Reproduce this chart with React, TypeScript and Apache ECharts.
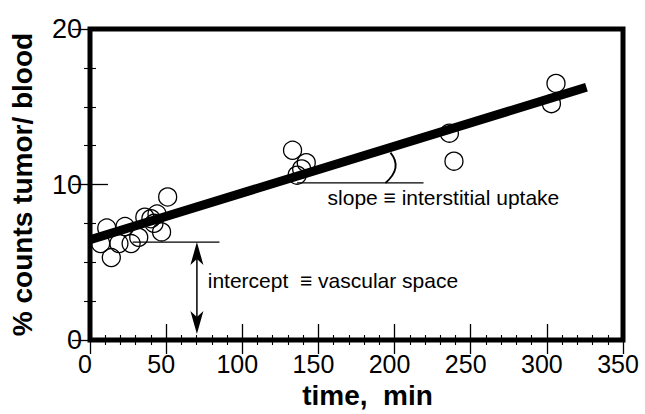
import React, { useEffect, useRef } from "react";
import * as echarts from "echarts";

// ---- data ----
const timeMin = [7, 11, 14, 19, 23, 27, 32, 36, 40, 42, 44, 47, 51, 133, 136, 139, 142, 236, 239, 303, 306];
const countsRatio = [6.2, 7.2, 5.3, 6.2, 7.3, 6.2, 6.6, 7.9, 7.8, 7.5, 8.1, 6.95, 9.2, 12.2, 10.6, 11.0, 11.4, 13.3, 11.5, 15.2, 16.5];
const fitTime = [0, 326];
const fitValue = [6.45, 16.25];
const xTicks = [0, 50, 100, 150, 200, 250, 300, 350];
const yTicks = [0, 10, 20];

// annotation anchors (data units)
const interceptLevel = 6.3;
const interceptLineTime = [28, 85];
const arrowTime = 70.2;
const arrowBottom = 0.38;
const slopeLevel = 10.1;
const slopeLineTime = [136, 219];
const arcBottom = [194, 10.1];
const arcTop = [197.3, 12.05];
const slopeText = "slope ≡ interstitial uptake";
const slopeTextAt = [156, 9.15];
const interceptText = "intercept  ≡ vascular space";
const interceptTextAt = [77.3, 3.8];

const FONT = "'Liberation Sans', Arial, Helvetica, sans-serif";

export default function App() {
  const ref = useRef<HTMLDivElement>(null);
  useEffect(() => {
    if (!ref.current) return;
    const chart = echarts.init(ref.current, undefined, { renderer: "svg" });
    const points = timeMin.map((t, i) => [t, countsRatio[i]]);
    const fit = fitTime.map((t, i) => [t, fitValue[i]]);

    const tickCommon = {
      axisLine: { show: false },
      axisTick: { show: true, inside: true, lineStyle: { color: "#000", width: 1.3 } },
      minorTick: { show: true, lineStyle: { color: "#000", width: 1.1 } },
      splitLine: { show: false },
      minorSplitLine: { show: false },
    };

    chart.setOption({
      animation: false,
      backgroundColor: "#fff",
      grid: {
        left: 89,
        right: 22,
        top: 29,
        bottom: 68,
        show: true,
        borderWidth: 5,
        borderColor: "#000",
        backgroundColor: "transparent",
      },
      xAxis: [
        {
          type: "value",
          min: xTicks[0],
          max: xTicks[xTicks.length - 1],
          interval: 50,
          position: "bottom",
          ...tickCommon,
          axisTick: { ...tickCommon.axisTick, length: 16 },
          minorTick: { ...tickCommon.minorTick, splitNumber: 5, length: 5 },
          axisLabel: {
            fontSize: 25,
            color: "#000",
            fontFamily: FONT,
            margin: 11,
            padding: [0, 10, 0, 0],
          },
          name: "time,  min",
          nameLocation: "middle",
          nameGap: 41,
          nameTextStyle: {
            fontSize: 28,
            fontWeight: "bold",
            color: "#000",
            fontFamily: FONT,
            padding: [0, 0, 0, 22],
          },
        },
        {
          type: "value",
          min: xTicks[0],
          max: xTicks[xTicks.length - 1],
          interval: 50,
          position: "top",
          ...tickCommon,
          axisTick: { ...tickCommon.axisTick, length: 14 },
          minorTick: { ...tickCommon.minorTick, splitNumber: 5, length: 5 },
          axisLabel: { show: false },
        },
      ],
      yAxis: [
        {
          type: "value",
          min: yTicks[0],
          max: yTicks[yTicks.length - 1],
          interval: 10,
          position: "left",
          ...tickCommon,
          axisTick: { ...tickCommon.axisTick, length: 18 },
          minorTick: { ...tickCommon.minorTick, splitNumber: 4, length: 6 },
          axisLabel: {
            fontSize: 27,
            color: "#000",
            fontFamily: FONT,
            margin: 8,
            padding: [0, 0, 8, 0],
          },
          name: "% counts tumor/ blood",
          nameLocation: "middle",
          nameRotate: 90,
          nameGap: 54,
          nameTextStyle: {
            fontSize: 28,
            fontWeight: "bold",
            color: "#000",
            fontFamily: FONT,
          },
        },
        {
          type: "value",
          min: yTicks[0],
          max: yTicks[yTicks.length - 1],
          interval: 10,
          position: "right",
          ...tickCommon,
          axisTick: { ...tickCommon.axisTick, length: 18 },
          minorTick: { ...tickCommon.minorTick, splitNumber: 4, length: 6 },
          axisLabel: { show: false },
        },
      ],
      series: [
        {
          type: "custom",
          z: 1,
          silent: true,
          clip: false,
          data: [[0, 0]],
          renderItem: (_params: any, api: any) => {
            const c = (pt: number[]) => api.coord(pt);
            const children: any[] = [];
            const stroke = { stroke: "#000", lineWidth: 1.3, fill: "none" };
            // intercept reference line
            const i0 = c([interceptLineTime[0], interceptLevel]);
            const i1 = c([interceptLineTime[1], interceptLevel]);
            children.push({ type: "line", shape: { x1: i0[0], y1: i0[1], x2: i1[0], y2: i1[1] }, style: stroke });
            // double arrow
            const top = c([arrowTime, interceptLevel]);
            const bot = c([arrowTime, arrowBottom]);
            const hl = 23, hw = 6.5, notch = 17;
            children.push({
              type: "line",
              shape: { x1: top[0], y1: top[1] + notch, x2: bot[0], y2: bot[1] - notch },
              style: { stroke: "#000", lineWidth: 1.5 },
            });
            children.push({
              type: "polygon",
              shape: { points: [[top[0], top[1]], [top[0] + hw, top[1] + hl], [top[0], top[1] + notch], [top[0] - hw, top[1] + hl]] },
              style: { fill: "#000" },
            });
            children.push({
              type: "polygon",
              shape: { points: [[bot[0], bot[1]], [bot[0] + hw, bot[1] - hl], [bot[0], bot[1] - notch], [bot[0] - hw, bot[1] - hl]] },
              style: { fill: "#000" },
            });
            // slope reference line
            const s0 = c([slopeLineTime[0], slopeLevel]);
            const s1 = c([slopeLineTime[1], slopeLevel]);
            children.push({ type: "line", shape: { x1: s0[0], y1: s0[1], x2: s1[0], y2: s1[1] }, style: stroke });
            // angle arc
            const a0 = c(arcBottom);
            const a1 = c(arcTop);
            children.push({
              type: "bezierCurve",
              shape: {
                x1: a0[0], y1: a0[1], x2: a1[0], y2: a1[1],
                cpx1: (a0[0] + a1[0]) / 2 + 15, cpy1: (a0[1] + a1[1]) / 2,
              },
              style: { stroke: "#000", lineWidth: 1.8, fill: "none" },
            });
            // texts
            const st = c(slopeTextAt);
            children.push({
              type: "text", x: st[0], y: st[1],
              style: { text: slopeText, fontSize: 21, fontFamily: FONT, fill: "#000", align: "left", verticalAlign: "middle" },
            });
            const it = c(interceptTextAt);
            children.push({
              type: "text", x: it[0], y: it[1],
              style: { text: interceptText, fontSize: 21, fontFamily: FONT, fill: "#000", align: "left", verticalAlign: "middle" },
            });
            return { type: "group", children };
          },
        },
        {
          type: "scatter",
          z: 2,
          data: points,
          symbol: "circle",
          symbolSize: 18,
          itemStyle: { color: "rgba(255,255,255,0)", borderColor: "#000", borderWidth: 1.3, opacity: 1 },
        },
        {
          type: "line",
          z: 3,
          data: fit,
          symbol: "none",
          lineStyle: { color: "#000", width: 9, cap: "butt" },
        },
      ],
    });
    return () => chart.dispose();
  }, []);
  return (
    <div
      ref={ref}
      style={{ position: "fixed", left: 0, top: 0, width: 645, height: 414, background: "#fff" }}
    />
  );
}
